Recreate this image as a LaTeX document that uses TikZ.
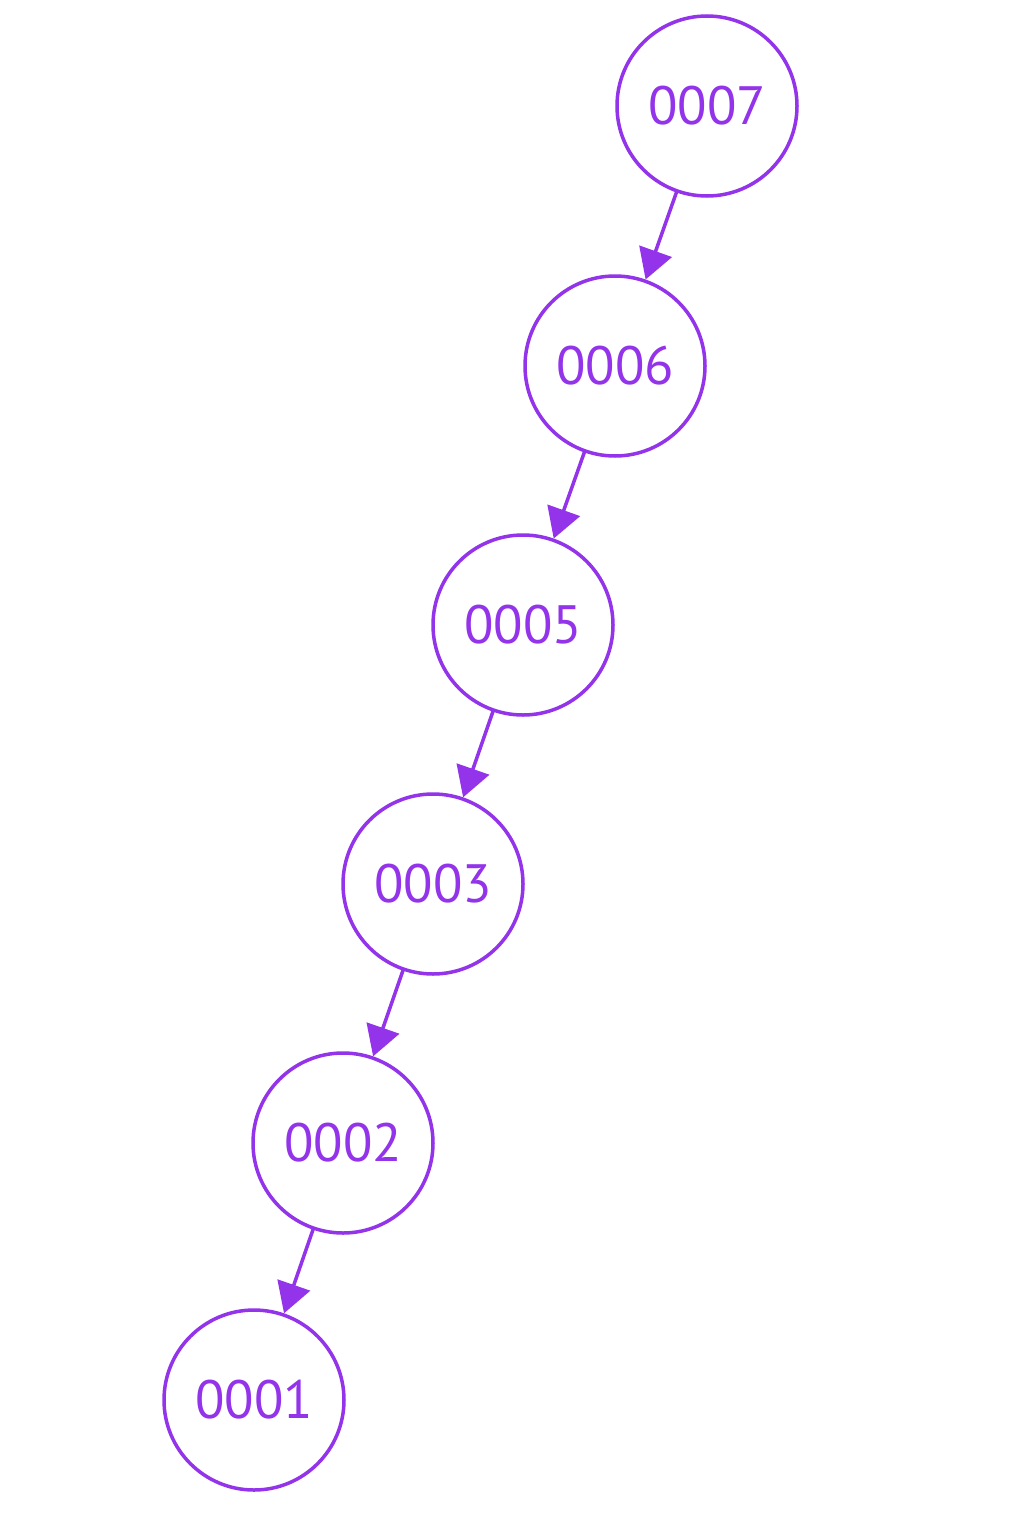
\documentclass[tikz,border=0pt]{standalone}
\usepackage{fontspec}
\setmainfont{PT Sans}
\usetikzlibrary{arrows.meta}
\definecolor{nodepurple}{HTML}{9333EA}
\begin{document}
\begin{tikzpicture}[x=1pt,y=-1pt,
  treenode/.style={circle, draw=nodepurple, line width=3.5pt, fill=white,
    minimum size=180pt, inner sep=0pt, text=nodepurple,
    font=\fontsize{54}{60}\selectfont},
  link/.style={draw=nodepurple, line width=3.5pt,
    -{Triangle[length=30pt,width=34pt]}, shorten <=-1pt}]
\useasboundingbox (0,0) rectangle (1024,1536);
\node[treenode] (n7) at (707,106) {0007};
\node[treenode] (n6) at (615,366) {0006};
\node[treenode] (n5) at (523,625) {0005};
\node[treenode] (n3) at (433,884) {0003};
\node[treenode] (n2) at (343,1143) {0002};
\node[treenode] (n1) at (254,1400) {0001};
\draw[link] (n7) -- (n6);
\draw[link] (n6) -- (n5);
\draw[link] (n5) -- (n3);
\draw[link] (n3) -- (n2);
\draw[link] (n2) -- (n1);
\end{tikzpicture}
\end{document}
